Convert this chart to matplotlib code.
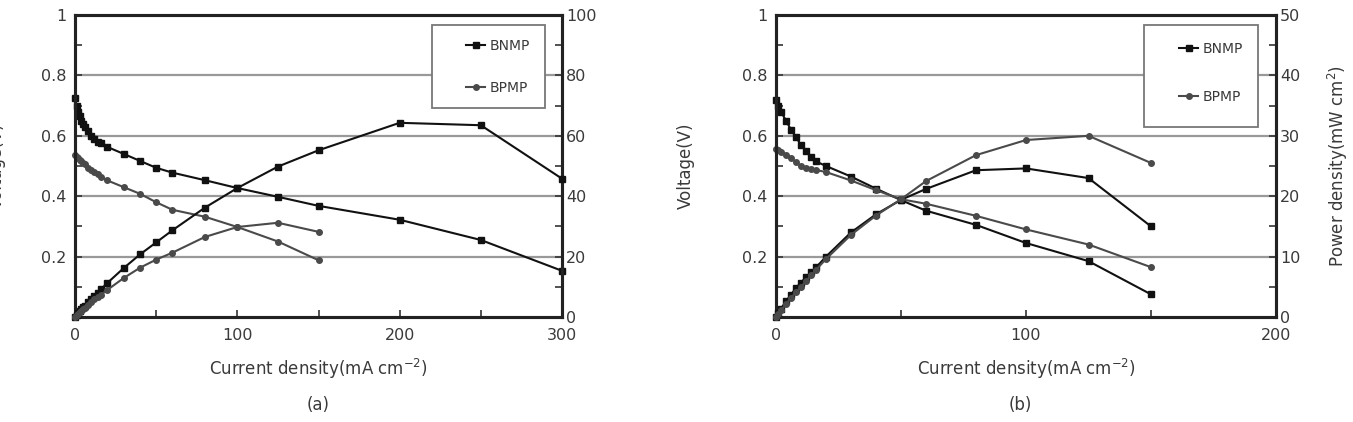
import matplotlib
matplotlib.use("Agg")
import matplotlib.pyplot as plt
from matplotlib.lines import Line2D
from matplotlib.patches import Rectangle

plt.rcParams['font.family'] = ['DejaVu Sans']

# ---------- panel (a) ----------
a_bnmp_x = [0, 1, 2, 3, 4, 5, 6, 8, 10, 12, 14, 16, 20, 30, 40, 50, 60, 80, 100, 125, 150, 200, 250, 300]
a_bnmp_v = [0.725, 0.70, 0.68, 0.665, 0.65, 0.64, 0.63, 0.615, 0.60, 0.59, 0.58, 0.575, 0.563, 0.54,
            0.517, 0.494, 0.478, 0.453, 0.427, 0.398, 0.368, 0.322, 0.255, 0.153]
a_bnmp_p = [0, 0.7, 1.36, 2.0, 2.6, 3.2, 3.8, 4.9, 6.0, 7.1, 8.1, 9.2, 11.3, 16.2, 20.7, 24.7,
            28.7, 36.2, 42.7, 49.8, 55.2, 64.3, 63.5, 45.8]

a_bpmp_x = [0, 1, 2, 3, 4, 5, 6, 8, 10, 12, 14, 16, 20, 30, 40, 50, 60, 80, 100, 125, 150]
a_bpmp_v = [0.535, 0.53, 0.525, 0.52, 0.515, 0.51, 0.505, 0.495, 0.487, 0.48, 0.472, 0.465, 0.452,
            0.43, 0.408, 0.38, 0.355, 0.332, 0.298, 0.25, 0.188]
a_bpmp_p = [0, 0.53, 1.05, 1.56, 2.06, 2.55, 3.0, 4.0, 4.9, 5.8, 6.6, 7.4, 9.0, 12.9, 16.3, 19.0,
            21.3, 26.5, 29.8, 31.2, 28.2]

# ---------- panel (b) ----------
b_x = [0, 1, 2, 4, 6, 8, 10, 12, 14, 16, 20, 30, 40, 50, 60, 80, 100, 125, 150]
b_bnmp_v = [0.72, 0.70, 0.68, 0.65, 0.62, 0.595, 0.57, 0.55, 0.53, 0.515, 0.50, 0.465, 0.425,
            0.387, 0.352, 0.305, 0.245, 0.185, 0.075]
b_bnmp_p = [0, 0.7, 1.4, 2.6, 3.7, 4.8, 5.7, 6.6, 7.4, 8.2, 10.0, 14.0, 17.0, 19.4, 21.2, 24.3,
            24.6, 23.0, 15.0]
b_bpmp_v = [0.555, 0.553, 0.548, 0.538, 0.525, 0.512, 0.50, 0.493, 0.49, 0.487, 0.48, 0.452, 0.42,
            0.39, 0.375, 0.335, 0.29, 0.24, 0.165]
b_bpmp_p = [0, 0.55, 1.1, 2.15, 3.15, 4.1, 5.0, 5.9, 6.9, 7.8, 9.6, 13.6, 16.8, 19.5, 22.5, 26.8,
            29.3, 30.0, 25.5]

series_names = ["BNMP", "BPMP"]
xlabel_text = "Current density(mA cm$^{-2}$)"

C_N = "#111111"
C_P = "#4a4a4a"
TXT = "#3a3a3a"
LW = 1.5

fig = plt.figure(figsize=(13.53, 4.22), dpi=100)


def style_axes(ax, ax2, xmax, xmaj, xmin, pmax, pmaj, pmin):
    ax.set_xlim(0, xmax)
    ax.set_ylim(0, 1)
    ax2.set_ylim(0, pmax)
    ax.set_xticks(xmaj)
    ax.set_xticklabels([str(v) for v in xmaj])
    ax.set_xticks(xmin, minor=True)
    ax.set_yticks([0.2, 0.4, 0.6, 0.8, 1.0])
    ax.set_yticklabels(["0.2", "0.4", "0.6", "0.8", "1"])
    ax.set_yticks([0.1, 0.3, 0.5, 0.7, 0.9], minor=True)
    ax2.set_yticks(pmaj)
    ax2.set_yticklabels([str(v) for v in pmaj])
    ax2.set_yticks(pmin, minor=True)
    for a in (ax, ax2):
        a.tick_params(which='both', direction='in', length=5, width=1.2, color='#333333',
                      labelsize=11.5, labelcolor=TXT)
        for s in a.spines.values():
            s.set_linewidth(2.2)
            s.set_color('#222222')
    ax.tick_params(axis='x', pad=8)
    ax.tick_params(axis='y', pad=6)
    ax2.tick_params(axis='y', pad=3)
    for g in [0.2, 0.4, 0.6, 0.8]:
        ax.axhline(g, color='#999999', lw=1.6, zorder=0.5)


def draw_legend(ax2, x0, y0, x1, y1, spacing, top_off):
    ax2.add_patch(Rectangle((x0, y0), x1 - x0, y1 - y0, transform=ax2.transAxes,
                            facecolor='white', edgecolor='#777777', lw=1.3, zorder=6))
    handles = [Line2D([], [], color=C_N, marker='s', markersize=4.5, lw=LW),
               Line2D([], [], color=C_P, marker='o', markersize=4, lw=LW)]
    leg = ax2.legend(handles, series_names, loc='upper right',
                     bbox_to_anchor=(x1 - 0.005, y1 - top_off),
                     bbox_transform=ax2.transAxes, frameon=False, fontsize=10,
                     handlelength=1.4, handletextpad=0.3, labelspacing=spacing,
                     labelcolor=TXT)
    leg.set_zorder(7)


# ---- panel (a)
ax = fig.add_axes([75 / 1353, 1 - 317 / 422, 487 / 1353, 302 / 422])
ax2 = ax.twinx()
style_axes(ax, ax2, 300, [0, 100, 200, 300], [50, 150, 250], 100,
           [0, 20, 40, 60, 80, 100], [10, 30, 50, 70, 90])
ax.plot(a_bnmp_x, a_bnmp_v, color=C_N, marker='s', markersize=4.5, lw=LW, zorder=3, clip_on=False)
ax.plot(a_bpmp_x, a_bpmp_v, color=C_P, marker='o', markersize=4, lw=LW, zorder=3, clip_on=False)
ax2.plot(a_bnmp_x, a_bnmp_p, color=C_N, marker='s', markersize=4.5, lw=LW, zorder=3, clip_on=False)
ax2.plot(a_bpmp_x, a_bpmp_p, color=C_P, marker='o', markersize=4, lw=LW, zorder=3, clip_on=False)
draw_legend(ax2, 0.733, 0.692, 0.965, 0.967, 2.0, 0.006)
ax.set_xlabel(xlabel_text, fontsize=12, color=TXT, labelpad=10)
fig.text(-3 / 1353, 1 - 166 / 422, "Voltage(V)", rotation=90, ha='center', va='center',
         fontsize=12, color=TXT)
fig.text(318 / 1353, 1 - 405 / 422, "(a)", ha='center', va='center', fontsize=12, color=TXT)

# ---- panel (b)
bx = fig.add_axes([776 / 1353, 1 - 317 / 422, 500 / 1353, 302 / 422])
bx2 = bx.twinx()
style_axes(bx, bx2, 200, [0, 100, 200], [50, 150], 50,
           [0, 10, 20, 30, 40, 50], [5, 15, 25, 35, 45])
bx.plot(b_x, b_bnmp_v, color=C_N, marker='s', markersize=4.5, lw=LW, zorder=3, clip_on=False)
bx.plot(b_x, b_bpmp_v, color=C_P, marker='o', markersize=4, lw=LW, zorder=3, clip_on=False)
bx2.plot(b_x, b_bnmp_p, color=C_N, marker='s', markersize=4.5, lw=LW, zorder=3, clip_on=False)
bx2.plot(b_x, b_bpmp_p, color=C_P, marker='o', markersize=4, lw=LW, zorder=3, clip_on=False)
draw_legend(bx2, 0.736, 0.63, 0.964, 0.967, 2.4, 0.016)
bx.set_xlabel(xlabel_text, fontsize=12, color=TXT, labelpad=10)
bx.set_ylabel("Voltage(V)", fontsize=12, color=TXT, labelpad=34)
bx2.set_ylabel("Power density(mW cm$^{2}$)", fontsize=12, color=TXT, labelpad=18)
fig.text(1020 / 1353, 1 - 405 / 422, "(b)", ha='center', va='center', fontsize=12, color=TXT)

fig.savefig("out.png", dpi=100)
